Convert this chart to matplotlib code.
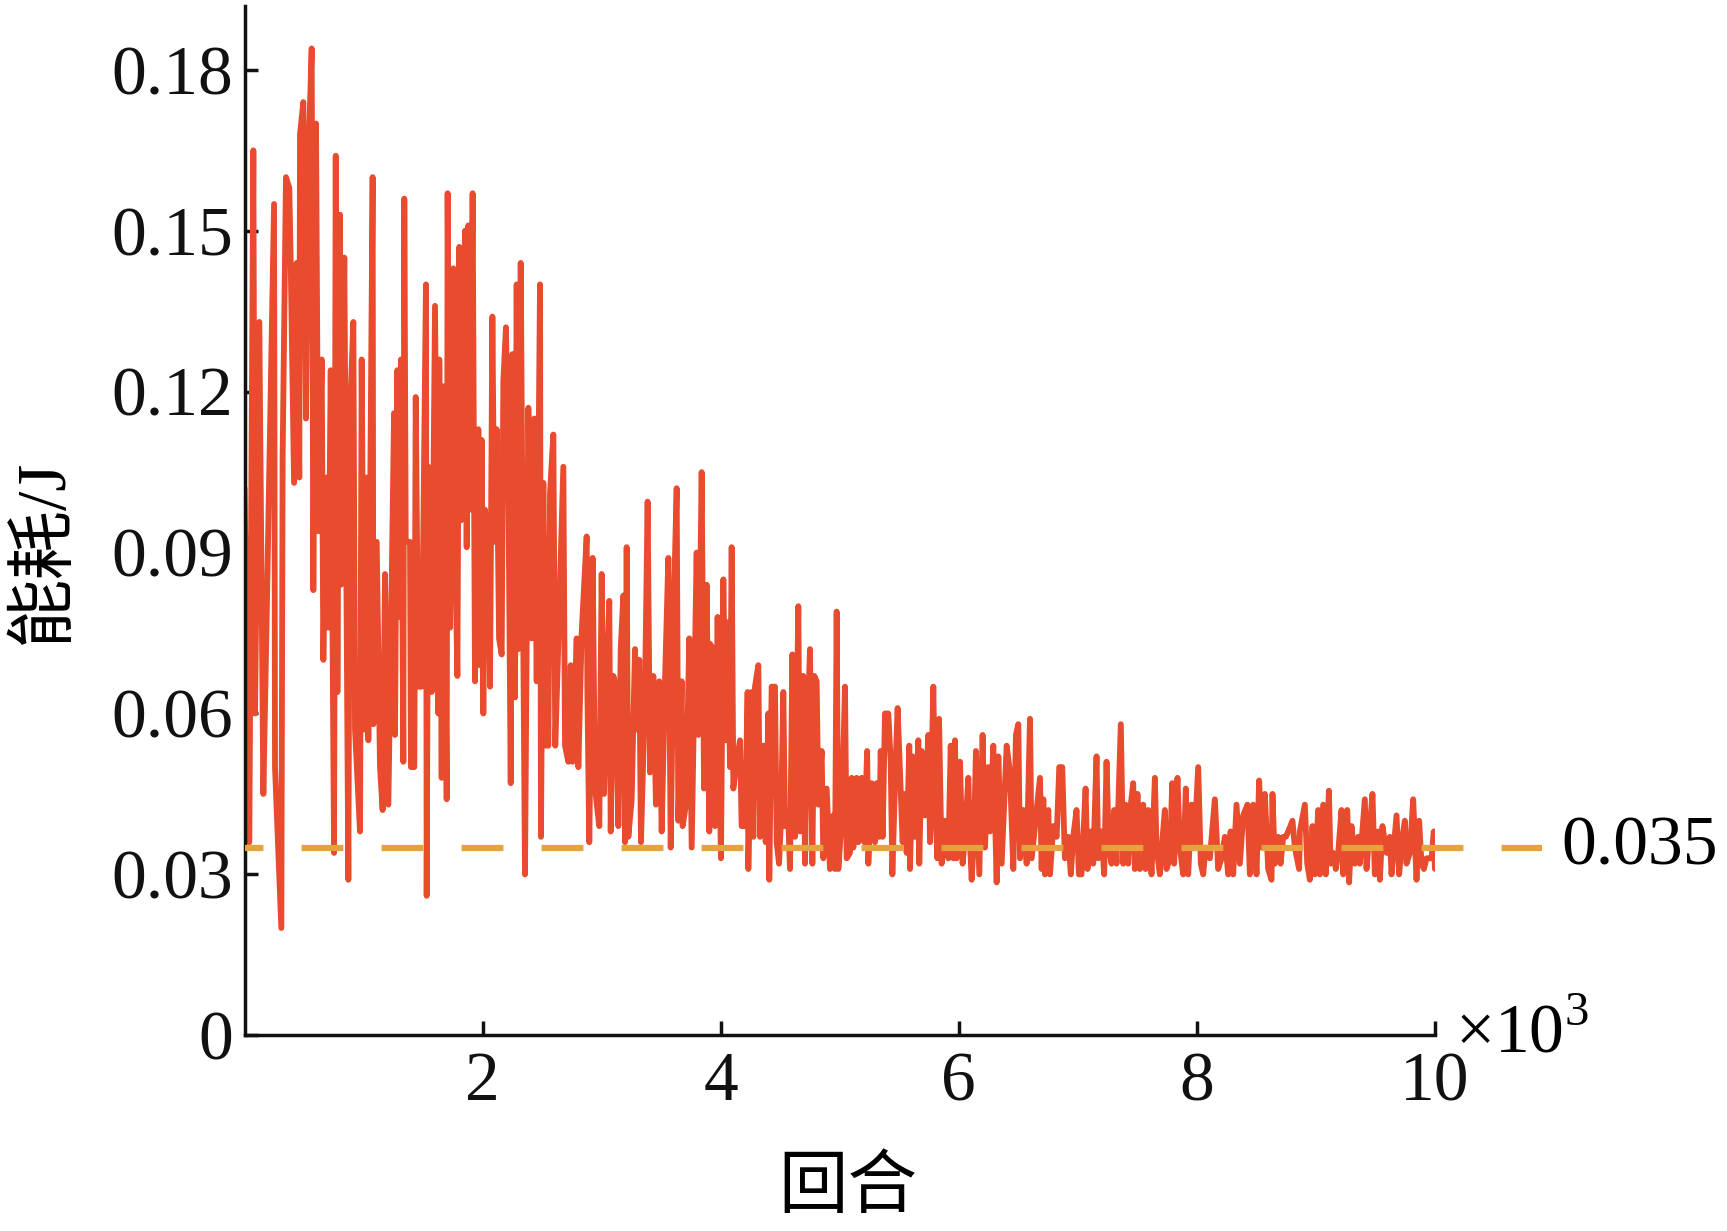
import numpy as np
import matplotlib.pyplot as plt

# (episode, energy) readings, one list per stretch of the x axis
seg_a = [(0, 0.102), (40, 0.036), (74, 0.165), (88, 0.060), (124, 0.133), (158, 0.045),
         (186, 0.078), (248, 0.155), (256, 0.050), (309, 0.020), (320, 0.108), (348, 0.160),
         (376, 0.158), (388, 0.144), (416, 0.103), (438, 0.144), (460, 0.104), (466, 0.168),
         (494, 0.174), (516, 0.115), (536, 0.163), (564, 0.184), (578, 0.083), (600, 0.170),
         (620, 0.094), (648, 0.126), (662, 0.070), (684, 0.104), (704, 0.076), (724, 0.124),
         (752, 0.034), (766, 0.164), (780, 0.064), (802, 0.153), (810, 0.084), (838, 0.145),
         (872, 0.029), (886, 0.116), (914, 0.133), (928, 0.057), (970, 0.038), (984, 0.126),
         (1004, 0.057), (1020, 0.104), (1040, 0.055), (1076, 0.160), (1082, 0.058), (1110, 0.092),
         (1138, 0.050), (1160, 0.042), (1180, 0.086), (1208, 0.043), (1236, 0.084), (1256, 0.116),
         (1264, 0.056), (1284, 0.124)]
seg_b = [(1292, 0.078), (1314, 0.126), (1334, 0.051), (1342, 0.156), (1354, 0.092), (1390, 0.092),
         (1398, 0.050), (1426, 0.050), (1438, 0.119), (1460, 0.065), (1488, 0.065), (1524, 0.140),
         (1530, 0.026), (1544, 0.106), (1572, 0.064), (1600, 0.136), (1628, 0.060), (1636, 0.126),
         (1656, 0.048), (1670, 0.121), (1698, 0.044), (1706, 0.157), (1726, 0.076), (1754, 0.143),
         (1768, 0.092), (1788, 0.067), (1804, 0.147), (1818, 0.096), (1852, 0.150), (1866, 0.091),
         (1880, 0.151), (1894, 0.098), (1916, 0.157), (1936, 0.066), (1964, 0.113), (1978, 0.069),
         (1992, 0.111), (2006, 0.060), (2020, 0.098), (2048, 0.091), (2062, 0.065), (2082, 0.134),
         (2098, 0.092), (2118, 0.113), (2138, 0.074), (2160, 0.071), (2174, 0.122), (2196, 0.132),
         (2216, 0.103), (2236, 0.047), (2250, 0.127), (2272, 0.063), (2286, 0.140), (2300, 0.072),
         (2320, 0.144), (2342, 0.072), (2356, 0.030), (2384, 0.117), (2412, 0.074), (2434, 0.115),
         (2454, 0.066), (2482, 0.140), (2490, 0.037), (2510, 0.103), (2530, 0.054), (2552, 0.054),
         (2566, 0.101), (2594, 0.112)]
seg_c = [(2610, 0.054), (2628, 0.067), (2678, 0.106), (2692, 0.054), (2720, 0.051), (2740, 0.069),
         (2756, 0.051), (2790, 0.074), (2804, 0.050), (2832, 0.075), (2874, 0.093), (2880, 0.064),
         (2896, 0.036), (2924, 0.089), (2944, 0.046), (2980, 0.039), (3000, 0.086), (3020, 0.045),
         (3042, 0.066), (3064, 0.081), (3076, 0.038), (3098, 0.067), (3120, 0.065), (3140, 0.039),
         (3160, 0.072), (3182, 0.082), (3196, 0.036), (3210, 0.091), (3224, 0.037), (3252, 0.044),
         (3280, 0.072), (3294, 0.057), (3316, 0.070), (3330, 0.036), (3364, 0.064), (3386, 0.0995),
         (3406, 0.049), (3434, 0.067), (3456, 0.043), (3484, 0.066), (3504, 0.038), (3532, 0.066),
         (3560, 0.089), (3580, 0.035), (3608, 0.082), (3630, 0.102), (3644, 0.040), (3672, 0.066),
         (3680, 0.039), (3708, 0.043), (3736, 0.074), (3756, 0.035), (3798, 0.090), (3812, 0.056),
         (3840, 0.105), (3860, 0.046), (3882, 0.084), (3904, 0.038)]
seg_d = [(3910, 0.073), (3938, 0.072), (3952, 0.039), (3974, 0.078), (3986, 0.055), (4002, 0.033),
         (4022, 0.085), (4042, 0.055), (4058, 0.077), (4078, 0.050), (4092, 0.091), (4106, 0.046),
         (4134, 0.051), (4162, 0.055), (4176, 0.039), (4204, 0.039), (4226, 0.064), (4232, 0.031),
         (4260, 0.064), (4274, 0.037), (4288, 0.065), (4316, 0.069), (4330, 0.037), (4358, 0.054),
         (4378, 0.036), (4400, 0.060), (4408, 0.029), (4428, 0.065), (4456, 0.065), (4470, 0.036),
         (4490, 0.032), (4506, 0.040), (4526, 0.064), (4540, 0.039), (4568, 0.040), (4582, 0.031),
         (4602, 0.071), (4624, 0.037), (4652, 0.080), (4666, 0.038), (4694, 0.067), (4708, 0.032),
         (4722, 0.052), (4750, 0.072), (4770, 0.032), (4786, 0.067), (4806, 0.066), (4820, 0.043),
         (4848, 0.053), (4862, 0.033), (4890, 0.046), (4918, 0.031), (4946, 0.041), (4960, 0.031),
         (4974, 0.079), (4988, 0.031), (5016, 0.040), (5044, 0.065), (5058, 0.033), (5086, 0.034),
         (5100, 0.048), (5114, 0.035), (5142, 0.048), (5156, 0.036), (5184, 0.048), (5206, 0.036)]
seg_e = [(5230, 0.053), (5240, 0.032), (5268, 0.047), (5296, 0.036), (5310, 0.047), (5332, 0.037),
         (5344, 0.053), (5360, 0.037), (5380, 0.060), (5408, 0.060), (5428, 0.051), (5442, 0.030),
         (5464, 0.047), (5486, 0.061), (5506, 0.049), (5528, 0.036), (5548, 0.045), (5562, 0.034),
         (5584, 0.054), (5590, 0.031), (5612, 0.052), (5632, 0.037), (5660, 0.055), (5668, 0.032),
         (5688, 0.053), (5716, 0.041), (5744, 0.056), (5758, 0.036), (5786, 0.065), (5800, 0.044),
         (5820, 0.033), (5834, 0.059), (5856, 0.032), (5884, 0.040), (5912, 0.033), (5932, 0.054),
         (5954, 0.033), (5968, 0.055), (5982, 0.033), (6010, 0.051), (6032, 0.032), (6052, 0.037),
         (6080, 0.048), (6094, 0.036), (6108, 0.029), (6128, 0.037), (6144, 0.053), (6172, 0.030),
         (6200, 0.056), (6220, 0.035), (6248, 0.050), (6262, 0.038), (6290, 0.054), (6318, 0.0285),
         (6332, 0.052), (6360, 0.032), (6402, 0.054), (6430, 0.049), (6458, 0.031), (6480, 0.056),
         (6500, 0.058), (6514, 0.033), (6542, 0.042), (6570, 0.032), (6598, 0.059), (6612, 0.033),
         (6640, 0.039), (6682, 0.048), (6696, 0.031), (6710, 0.044), (6724, 0.030), (6752, 0.042),
         (6766, 0.030), (6794, 0.039), (6822, 0.037), (6844, 0.050)]
seg_f = [(6869, 0.050), (6891, 0.033), (6919, 0.037), (6941, 0.030), (6961, 0.037), (6989, 0.042),
         (7009, 0.030), (7031, 0.030), (7065, 0.046), (7081, 0.031), (7109, 0.038), (7129, 0.032),
         (7157, 0.052), (7171, 0.033), (7199, 0.038), (7221, 0.030), (7241, 0.051), (7261, 0.035),
         (7283, 0.032), (7305, 0.042), (7325, 0.032), (7361, 0.058), (7381, 0.032), (7401, 0.043),
         (7423, 0.032), (7445, 0.043), (7465, 0.047), (7479, 0.031), (7501, 0.045), (7521, 0.031),
         (7549, 0.043), (7569, 0.031), (7591, 0.042), (7619, 0.030), (7647, 0.048), (7661, 0.035),
         (7689, 0.030), (7709, 0.036), (7731, 0.042), (7745, 0.031), (7773, 0.033), (7793, 0.047),
         (7809, 0.032), (7837, 0.048), (7857, 0.035), (7885, 0.030), (7907, 0.046), (7927, 0.030),
         (7955, 0.043), (7977, 0.035), (8011, 0.050), (8033, 0.032), (8053, 0.030), (8073, 0.035),
         (8109, 0.033), (8151, 0.044), (8179, 0.031), (8207, 0.033), (8235, 0.037), (8263, 0.030),
         (8283, 0.038), (8305, 0.030), (8333, 0.043), (8361, 0.032), (8389, 0.041), (8425, 0.043),
         (8445, 0.030), (8473, 0.043)]
seg_g = [(8501, 0.030), (8523, 0.0475), (8543, 0.035), (8571, 0.045), (8599, 0.031), (8627, 0.029),
         (8635, 0.045), (8655, 0.032), (8683, 0.037), (8703, 0.032), (8725, 0.037), (8747, 0.037),
         (8767, 0.038), (8803, 0.040), (8823, 0.035), (8859, 0.031), (8865, 0.038), (8907, 0.043),
         (8927, 0.032), (8949, 0.029), (8971, 0.039), (8991, 0.030), (9019, 0.042), (9033, 0.030),
         (9061, 0.043), (9083, 0.030), (9109, 0.0456), (9123, 0.032), (9145, 0.034), (9167, 0.031),
         (9187, 0.034), (9215, 0.042), (9229, 0.030), (9263, 0.042), (9279, 0.0285), (9299, 0.039),
         (9327, 0.032), (9355, 0.037), (9369, 0.032), (9411, 0.044), (9425, 0.031), (9447, 0.037),
         (9475, 0.045), (9495, 0.030), (9523, 0.038), (9537, 0.029), (9559, 0.039), (9593, 0.034),
         (9621, 0.037), (9635, 0.030), (9677, 0.041), (9699, 0.030), (9727, 0.037), (9747, 0.040),
         (9761, 0.032), (9789, 0.034), (9817, 0.044), (9845, 0.029), (9867, 0.040), (9887, 0.032),
         (9907, 0.031), (9929, 0.033), (9971, 0.033), (9990, 0.038), (10000, 0.031)]

baseline = 0.035
baseline_end = 10.9   # dashed line runs past the axis end (x1e3)

xticks = [2, 4, 6, 8, 10]
yticks = [0, 0.03, 0.06, 0.09, 0.12, 0.15, 0.18]
ytick_labels = ['0', '0.03', '0.06', '0.09', '0.12', '0.15', '0.18']

pairs = seg_a + seg_b + seg_c + seg_d + seg_e + seg_f + seg_g
episodes = np.array([p[0] for p in pairs]) / 1000.0
energy = np.array([p[1] for p in pairs])

plt.rcParams['font.family'] = ['Liberation Serif', 'Noto Sans CJK SC']
plt.rcParams['mathtext.fontset'] = 'custom'
plt.rcParams['mathtext.rm'] = 'Liberation Serif'

fig = plt.figure(figsize=(17.27, 12.31), dpi=100)
ax = fig.add_axes([0.1416, 0.159, 0.6893, 0.8365])

ax.plot(episodes, energy, color='#E84B2D', lw=4.2,
        solid_joinstyle='round', solid_capstyle='round', zorder=2)
ax.plot([0, baseline_end], [baseline, baseline], color='#E6A23C', lw=4.5,
        ls=(3.76, (6.7, 6.1)), clip_on=False, zorder=3)
ax.text(11.06, baseline, '0.035', fontsize=50, va='center', ha='left', clip_on=False)

ax.set_xlim(0, 10)
ax.set_ylim(0, 0.192)
ax.set_xticks(xticks)
ax.set_xticklabels([str(t) for t in xticks])
ax.set_yticks(yticks)
ax.set_yticklabels(ytick_labels)
ax.tick_params(axis='both', direction='in', labelsize=50, width=2.5, colors='#111111')
ax.tick_params(axis='y', length=9, pad=8)
ax.tick_params(axis='x', length=10, pad=12)

for side in ['top', 'right']:
    ax.spines[side].set_visible(False)
for side in ['left', 'bottom']:
    ax.spines[side].set_linewidth(2.5)
    ax.spines[side].set_color('#111111')

ax.text(10.17, 0.0, r'$\times10^{3}$', fontsize=50, ha='left', va='center', clip_on=False)
fig.text(0.026, 0.5524, '能耗/J', rotation=90, fontsize=50, ha='center', va='center')
fig.text(0.491, 0.0333, '回合', fontsize=50, ha='center', va='center')

fig.savefig('out.png', dpi=100)
